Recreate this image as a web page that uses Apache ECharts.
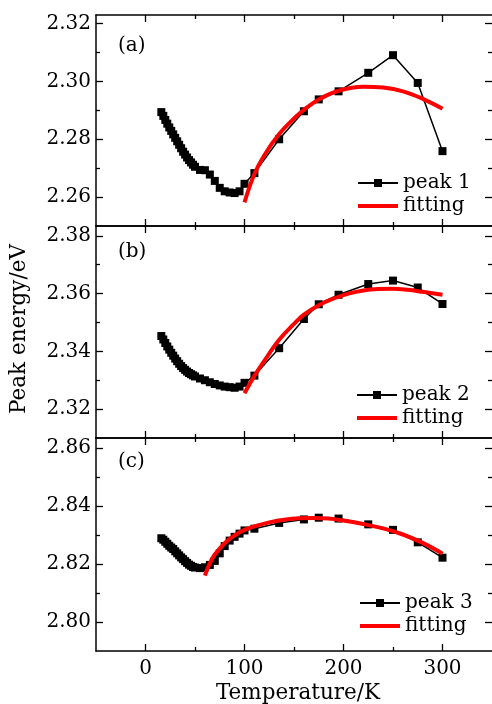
<!DOCTYPE html>
<html>
<head>
<meta charset="utf-8">
<script src="https://cdn.jsdelivr.net/npm/echarts@6/dist/echarts.min.js"></script>
<style>
  html, body { margin: 0; padding: 0; background: #fff; }
  #chart { width: 492px; height: 704px; }
</style>
</head>
<body>
<div id="chart"></div>
<script>
// Measured temperatures (K) and peak energies (eV)
const tempA = [16,18,20,22,24,26,28,30,32,34,36,38,40,42,44,46,48,50,55,60,65,70,75,80,85,90,95,100,110,135,160,175,195,225,250,275,300];
const peak1 = [2.2894,2.2881,2.2867,2.2854,2.2841,2.2829,2.2817,2.2805,2.2793,2.2781,2.2769,2.2757,2.2747,2.2737,2.2728,2.2720,2.2712,2.2705,2.2694,2.2693,2.2678,2.2656,2.2632,2.2620,2.2616,2.2614,2.2620,2.2646,2.2683,2.2800,2.2897,2.2938,2.2966,2.3030,2.3091,2.2995,2.2759];

const tempB = [16,18,20,22,24,26,28,30,32,34,36,38,40,42,44,46,48,50,55,60,65,70,75,80,85,90,95,100,110,135,160,175,195,225,250,275,300];
const peak2 = [2.3453,2.3441,2.3429,2.3417,2.3406,2.3395,2.3385,2.3375,2.3366,2.3357,2.3349,2.3342,2.3336,2.3330,2.3325,2.3321,2.3317,2.3313,2.3306,2.3300,2.3293,2.3287,2.3282,2.3278,2.3276,2.3274,2.3278,2.3291,2.3316,2.3411,2.3512,2.3563,2.3596,2.3633,2.3645,2.3621,2.3564];

const tempC = [16,18,20,22,24,26,28,30,32,34,36,38,40,42,44,46,48,50,55,60,65,70,75,80,85,90,95,100,110,135,160,175,195,225,250,275,300];
const peak3 = [2.8289,2.8284,2.8277,2.8270,2.8263,2.8257,2.8252,2.8244,2.8237,2.8230,2.8223,2.8217,2.8210,2.8204,2.8198,2.8194,2.8190,2.8188,2.8186,2.8189,2.8197,2.8211,2.8237,2.8262,2.8281,2.8294,2.8305,2.8316,2.8322,2.8342,2.8354,2.8360,2.8357,2.8337,2.8318,2.8275,2.8222];

// Fitted curves
const fitTempA = [100,110,120,135,150,160,175,195,220,240,260,280,300];
const fit1 = [2.2582,2.2680,2.2745,2.2818,2.2872,2.2902,2.2938,2.2968,2.2982,2.2979,2.2966,2.2940,2.2906];

const fitTempB = [100,110,120,135,150,160,175,190,205,220,235,250,265,280,300];
const fit2 = [2.3255,2.3315,2.3367,2.3440,2.3495,2.3527,2.3560,2.3583,2.3600,2.3611,2.3616,2.3617,2.3613,2.3606,2.3596];

const fitTempC = [60,65,70,80,90,100,110,125,140,155,170,185,200,220,240,260,280,300];
const fit3 = [2.8160,2.8203,2.8233,2.8272,2.8299,2.8318,2.8330,2.8344,2.8353,2.8358,2.8359,2.8357,2.8350,2.8338,2.8323,2.8302,2.8273,2.8236];

// Axis ticks
const xRange = [-50, 350];
const xMajor = [0, 100, 200, 300];
const xMinor = [50, 150, 250];
const yRanges = [[2.25, 2.323], [2.31, 2.3834], [2.79, 2.8635]];
const yMajors = [[2.26, 2.28, 2.30, 2.32], [2.32, 2.34, 2.36, 2.38], [2.80, 2.82, 2.84, 2.86]];
const yMinors = [[2.27, 2.29, 2.31], [2.33, 2.35, 2.37], [2.81, 2.83, 2.85]];

const panelLabels = ['(a)', '(b)', '(c)'];
const peakNames = ['peak 1', 'peak 2', 'peak 3'];
const xTitle = 'Temperature/K';
const yTitle = 'Peak energy/eV';

const FONT = 'DejaVu Serif';
const FS = 20;
const FS_TITLE = 21.5;
const textBase = { fontFamily: FONT, fontSize: FS, color: '#000' };
const frame = { color: '#000', width: 1.5 };

const grids = [
  { left: 96, top: 15, width: 398, height: 211 },
  { left: 96, top: 226, width: 398, height: 212 },
  { left: 96, top: 438, width: 398, height: 213 }
];

const xAxes = [];
const yAxes = [];
grids.forEach((g, i) => {
  const showXLabels = i === 2;
  // [position, tick values, tick length, labels, frame line]
  const xDefs = [
    ['bottom', xMajor, 7, showXLabels, true],
    ['bottom', xMinor, 4, false, false],
    ['top', xMajor, 7, false, true],
    ['top', xMinor, 4, false, false]
  ];
  xDefs.forEach(([pos, vals, len, lab, line]) => {
    xAxes.push({
      type: 'value', gridIndex: i, position: pos, min: xRange[0], max: xRange[1],
      axisLine: { show: line, onZero: false, lineStyle: frame },
      splitLine: { show: false },
      axisTick: { show: true, inside: true, length: len, customValues: vals, lineStyle: { color: '#000', width: 1.3 } },
      axisLabel: { show: lab, customValues: vals, margin: 8, ...textBase }
    });
  });
  const yDefs = [
    ['left', yMajors[i], 7, true, true],
    ['left', yMinors[i], 4, false, false],
    ['right', yMajors[i], 7, false, false],
    ['right', yMinors[i], 4, false, false]
  ];
  yDefs.forEach(([pos, vals, len, lab, line]) => {
    yAxes.push({
      type: 'value', gridIndex: i, position: pos, min: yRanges[i][0], max: yRanges[i][1],
      axisLine: { show: line, onZero: false, lineStyle: frame },
      splitLine: { show: false },
      axisTick: { show: true, inside: true, length: len, customValues: vals, lineStyle: { color: '#000', width: 1.3 } },
      axisLabel: { show: lab, customValues: vals, margin: 5, formatter: v => v.toFixed(2), ...textBase }
    });
  });
});

const pair = (xs, ys) => xs.map((x, k) => [x, ys[k]]);
const measured = [pair(tempA, peak1), pair(tempB, peak2), pair(tempC, peak3)];
const fitted = [pair(fitTempA, fit1), pair(fitTempB, fit2), pair(fitTempC, fit3)];

const series = [];
grids.forEach((g, i) => {
  series.push({
    type: 'line', name: peakNames[i], xAxisIndex: 4 * i, yAxisIndex: 4 * i,
    data: measured[i], symbol: 'rect', symbolSize: 8,
    itemStyle: { color: '#000' }, lineStyle: { color: '#000', width: 1.5 },
    z: 2, animation: false
  });
  series.push({
    type: 'line', name: 'fitting', xAxisIndex: 4 * i, yAxisIndex: 4 * i,
    data: fitted[i], symbol: 'none', smooth: 0.4,
    itemStyle: { color: '#ff0000' }, lineStyle: { color: '#ff0000', width: 4 },
    z: 3, animation: false
  });
});

// Legend boxes, one per panel; the fit entry shows only its line
const legendPos = [[356, 173], [355, 385], [358, 593]];
const legends = legendPos.map((p, i) => ({
  orient: 'vertical', left: p[0], top: p[1], padding: 0, itemGap: 3,
  itemWidth: 40, itemHeight: 10, selectedMode: false,
  data: [
    { name: peakNames[i] },
    { name: 'fitting', itemStyle: { opacity: 0 }, lineStyle: { width: 4, color: '#ff0000', opacity: 1 } }
  ],
  textStyle: { ...textBase }
}));

const labelY = [48, 254, 464];
const graphics = panelLabels.map((t, i) => ({
  type: 'text', left: 118, top: labelY[i] - 12,
  style: { text: t, font: `${FS}px "${FONT}"`, fill: '#000' }
}));
graphics.push({
  type: 'text', x: 298, y: 693,
  style: { text: xTitle, font: `${FS_TITLE}px "${FONT}"`, fill: '#000', align: 'center', verticalAlign: 'middle' }
});
graphics.push({
  type: 'text', x: 19, y: 329, rotation: Math.PI / 2,
  style: { text: yTitle, font: `${FS_TITLE}px "${FONT}"`, fill: '#000', align: 'center', verticalAlign: 'middle' }
});

const chart = echarts.init(document.getElementById('chart'), null, { renderer: 'canvas' });
chart.setOption({
  animation: false,
  backgroundColor: '#fff',
  grid: grids.map(g => ({ ...g, show: false })),
  xAxis: xAxes,
  yAxis: yAxes,
  legend: legends,
  series: series,
  graphic: graphics
});
</script>
</body>
</html>
